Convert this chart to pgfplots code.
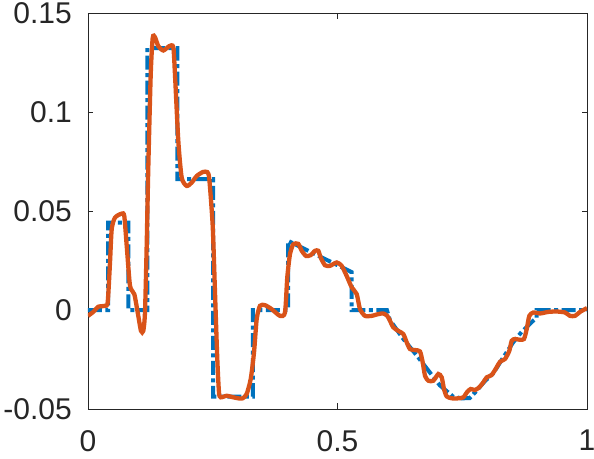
\documentclass[border=0pt]{standalone}
\usepackage{fontspec}
\setmainfont{Liberation Sans}
\usepackage{pgfplots}
\pgfplotsset{compat=1.18}
\definecolor{mblue}{HTML}{0072BD}
\definecolor{morange}{HTML}{D95319}
\definecolor{axgray}{HTML}{262626}

\begin{document}
\begin{tikzpicture}
\begin{axis}[name=ax, scale only axis, width=499bp, height=395.5bp,
  xmin=0, xmax=1, ymin=-0.05, ymax=0.15,
  xtick={0,0.5,1}, xticklabels={0,0.5,1},
  ytick={-0.05,0,0.05,0.1,0.15}, yticklabels={-0.05,0,0.05,0.1,0.15},
  tick align=inside, major tick length=5.5bp,
  axis line style={axgray, line width=0.9bp},
  every tick/.style={axgray, line width=0.9bp},
  tick label style={font=\fontsize{30bp}{36bp}\selectfont, text=axgray, inner sep=0pt},
  yticklabel style={anchor=east, xshift=-16bp},
  xticklabel style={anchor=north, yshift=-21bp}]
% exact (piecewise) solution
\addplot[mblue, line width=4bp, dash pattern=on 14bp off 3.5bp on 4bp off 3.5bp] coordinates {
 (0,0) (0.0405,0) (0.0405,0.0443) (0.081,0.0443) (0.081,0) (0.119,0) (0.119,0.1325)
 (0.179,0.1325) (0.179,0.0662) (0.2505,0.0662) (0.2505,-0.0437) (0.3305,-0.0437)
 (0.3305,0) (0.4012,0) (0.4012,0.0350) (0.5285,0.0192) (0.5285,0) (0.599,0)
 (0.605,-0.005) (0.632,-0.0146) (0.659,-0.023) (0.685,-0.0315) (0.705,-0.038)
 (0.732,-0.0438) (0.749,-0.0446) (0.765,-0.0445) (0.779,-0.0407) (0.795,-0.036)
 (0.812,-0.032) (0.832,-0.024) (0.852,-0.0163) (0.869,-0.011) (0.892,-0.0054)
 (0.899,-0.004) (0.899,0) (1,0)};
% reconstruction
\addplot[morange, line width=4.3bp, smooth, tension=0.4] coordinates {
 (0.000,-0.0029) (0.0106,-0.0009) (0.0206,0.0017) (0.0341,0.0022) (0.0395,0.0040)
 (0.0441,0.0241) (0.0475,0.0409) (0.0541,0.0468) (0.0675,0.0488) (0.0727,0.0476)
 (0.0776,0.0325) (0.0842,0.0123) (0.0928,0.0081) (0.0996,-0.0012) (0.1062,-0.0105)
 (0.1108,-0.0105) (0.1142,-0.0012) (0.1176,0.0325) (0.1208,0.0717) (0.1257,0.1192)
 (0.1297,0.1377) (0.1343,0.1380) (0.1409,0.1335) (0.1509,0.1313) (0.1629,0.1335)
 (0.1709,0.1330) (0.1743,0.1192) (0.1810,0.0855) (0.1878,0.0670) (0.1978,0.0628)
 (0.2078,0.0645) (0.2178,0.0678) (0.2299,0.0698) (0.2391,0.0698) (0.2431,0.0662)
 (0.2499,0.0426) (0.2545,0.0091) (0.2591,-0.0247) (0.2625,-0.0416) (0.2659,-0.0441)
 (0.2780,-0.0433) (0.2880,-0.0439) (0.3012,-0.0446) (0.3100,-0.0446) (0.3180,-0.0424)
 (0.3261,-0.0348) (0.3327,-0.0214) (0.3381,-0.0045) (0.3447,0.0022) (0.3547,0.0025)
 (0.3681,0.0005) (0.3848,-0.0029) (0.3948,-0.0012) (0.3994,0.0167) (0.4048,0.0283)
 (0.4114,0.0333) (0.4214,0.0335) (0.4283,0.0300) (0.4369,0.0274) (0.4463,0.0278)
 (0.4549,0.0300) (0.4615,0.0300) (0.4663,0.0266) (0.4749,0.0227) (0.4850,0.0224)
 (0.4984,0.0241) (0.5084,0.0224) (0.5184,0.0173) (0.5285,0.0115) (0.5385,0.0081)
 (0.5451,0.0005) (0.5551,-0.0029) (0.5685,-0.0029) (0.5818,-0.0020) (0.5918,-0.0017)
 (0.5998,-0.0029) (0.6052,-0.0054) (0.6118,-0.0087) (0.6218,-0.0105) (0.6319,-0.0121)
 (0.6387,-0.0163) (0.6453,-0.0197) (0.6553,-0.0202) (0.6653,-0.0209) (0.6707,-0.0264)
 (0.6754,-0.0332) (0.6820,-0.0357) (0.6920,-0.0357) (0.7020,-0.0323) (0.7088,-0.0340)
 (0.7134,-0.0399) (0.7188,-0.0436) (0.7289,-0.0446) (0.7421,-0.0446) (0.7521,-0.0441)
 (0.7601,-0.0413) (0.7669,-0.0399) (0.7756,-0.0404) (0.7842,-0.0390) (0.7922,-0.0365)
 (0.7990,-0.0340) (0.8090,-0.0328) (0.8190,-0.0289) (0.8257,-0.0261) (0.8357,-0.0247)
 (0.8443,-0.0206) (0.8491,-0.0155) (0.8557,-0.0146) (0.8657,-0.0150) (0.8737,-0.0146)
 (0.8792,-0.0096) (0.8844,-0.0029) (0.8924,-0.0012) (0.9058,-0.0017) (0.9224,-0.0009)
 (0.9393,-0.0007) (0.9559,-0.0012) (0.9659,-0.0029) (0.9760,-0.0029) (0.9860,-0.0009)
 (0.9960,0.0005) (1.0,0.0010)};
\end{axis}
\pgfresetboundingbox
\useasboundingbox ([shift={(-88bp,-50bp)}]ax.south west) rectangle ([shift={(7bp,13.5bp)}]ax.north east);
\end{tikzpicture}
\end{document}
